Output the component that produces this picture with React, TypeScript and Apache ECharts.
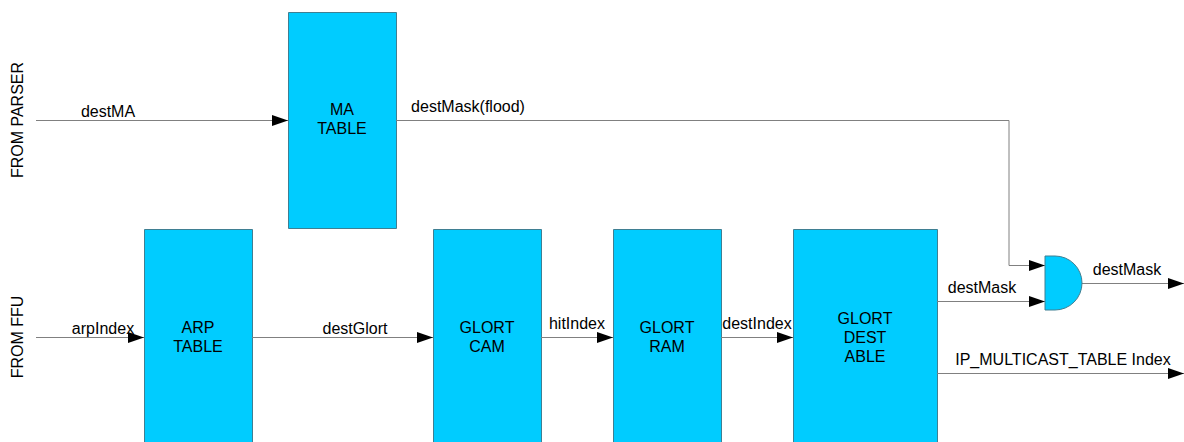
import React, { useEffect, useRef } from "react";
import * as echarts from "echarts";

// Diagram coordinate space matches the picture: x 0..1184, y 0..442 (downwards)
const blockNames = ["MA\nTABLE", "ARP\nTABLE", "GLORT\nCAM", "GLORT\nRAM", "GLORT\nDEST\nABLE"];
const blockLeft = [288, 144, 433, 613, 793];
const blockRight = [396, 252, 541, 721, 937];
const blockTop = [12, 229, 229, 229, 229];
const blockBottom = [228, 452, 452, 452, 452];
const blockTextY = [119, 337, 337, 337, 337];

const signalNames = [
  "destMA",
  "destMask(flood)",
  "arpIndex",
  "destGlort",
  "hitIndex",
  "destIndex",
  "destMask",
  "destMask",
  "IP_MULTICAST_TABLE Index",
];
const signalPaths: number[][][] = [
  [[36, 120], [288, 120]],
  [[396, 120], [1009, 120], [1009, 265], [1045, 265]],
  [[36, 337], [144, 337]],
  [[252, 337], [433, 337]],
  [[541, 337], [613, 337]],
  [[721, 337], [793, 337]],
  [[937, 301], [1045, 301]],
  [[1082, 283], [1184, 283]],
  [[937, 373], [1184, 373]],
];
const signalLabelX = [108, 468, 103, 355, 577, 757, 982, 1127, 1063];
const signalLabelY = [111, 106, 328, 328, 323, 323, 287, 269, 359];

const sourceNames = ["FROM PARSER", "FROM FFU"];
const sourceX = [17, 17];
const sourceY = [120, 337];

const gateLeft = 1045;
const gateTop = 256;
const gateBottom = 310;
const gateFlat = 1055;

const FONT = "16px 'Liberation Sans', Arial, sans-serif";

export default function App() {
  const ref = useRef<HTMLDivElement>(null);
  useEffect(() => {
    if (!ref.current) return;
    const chart = echarts.init(ref.current, undefined, { renderer: "svg" });
    const option: any = {
      animation: false,
      backgroundColor: "#ffffff",
      grid: { left: 0, right: 0, top: 0, bottom: 0 },
      xAxis: { type: "value", min: 0, max: 1184, show: false },
      yAxis: { type: "value", min: 0, max: 442, inverse: true, show: false },
      series: [
        {
          type: "custom",
          clip: false,
          data: blockNames.map((_, i) => [blockLeft[i], blockTop[i], blockRight[i], blockBottom[i]]),
          renderItem: (params: any, api: any) => {
            const i = params.dataIndex;
            const p0 = api.coord([api.value(0), api.value(1)]);
            const p1 = api.coord([api.value(2), api.value(3)]);
            const c = api.coord([(blockLeft[i] + blockRight[i]) / 2, blockTextY[i]]);
            return {
              type: "group",
              children: [
                {
                  type: "rect",
                  shape: { x: p0[0] + 0.5, y: p0[1] + 0.5, width: p1[0] - p0[0], height: p1[1] - p0[1] },
                  style: { fill: "#00CCFF", stroke: "#3f7f92", lineWidth: 1 },
                },
                {
                  type: "text",
                  style: {
                    text: blockNames[i],
                    x: c[0],
                    y: c[1],
                    align: "center",
                    verticalAlign: "middle",
                    font: FONT,
                    lineHeight: 19,
                    fill: "#000000",
                  },
                },
              ],
            };
          },
        },
        {
          type: "custom",
          clip: false,
          data: signalNames.map((_, i) => [i]),
          renderItem: (params: any, api: any) => {
            const i = params.dataIndex;
            const pts = signalPaths[i].map((p) => {
              const q = api.coord(p);
              return [Math.round(q[0]), Math.round(q[1]) + 0.5];
            });
            const end = pts[pts.length - 1];
            const prev = pts[pts.length - 2];
            const dir = end[0] >= prev[0] ? 1 : -1;
            const lab = api.coord([signalLabelX[i], signalLabelY[i]]);
            return {
              type: "group",
              children: [
                {
                  type: "polyline",
                  shape: { points: pts },
                  style: { stroke: "#808080", lineWidth: 1, fill: null },
                },
                {
                  type: "polygon",
                  shape: {
                    points: [
                      [end[0], end[1]],
                      [end[0] - dir * 16, end[1] - 5.5],
                      [end[0] - dir * 16, end[1] + 5.5],
                    ],
                  },
                  style: { fill: "#000000" },
                },
                {
                  type: "text",
                  style: {
                    text: signalNames[i],
                    x: lab[0],
                    y: lab[1],
                    align: "center",
                    verticalAlign: "middle",
                    font: FONT,
                    fill: "#000000",
                  },
                },
              ],
            };
          },
        },
        {
          type: "custom",
          clip: false,
          data: [[gateLeft, gateTop, gateBottom]],
          renderItem: (params: any, api: any) => {
            const a = api.coord([gateLeft, gateTop]);
            const b = api.coord([gateFlat, gateBottom]);
            const r = (b[1] - a[1]) / 2;
            const d = `M${a[0]} ${a[1]} L${b[0]} ${a[1]} A${r} ${r} 0 0 1 ${b[0]} ${b[1]} L${a[0]} ${b[1]} Z`;
            return {
              type: "path",
              shape: { pathData: d },
              style: { fill: "#00CCFF", stroke: "#3f7f92", lineWidth: 1 },
            };
          },
        },
        {
          type: "custom",
          clip: false,
          data: sourceNames.map((_, i) => [sourceX[i], sourceY[i]]),
          renderItem: (params: any, api: any) => {
            const i = params.dataIndex;
            const c = api.coord([api.value(0), api.value(1)]);
            return {
              type: "text",
              x: c[0],
              y: c[1],
              rotation: Math.PI / 2,
              style: {
                text: sourceNames[i],
                x: 0,
                y: 0,
                align: "center",
                verticalAlign: "middle",
                font: FONT,
                fill: "#000000",
              },
            };
          },
        },
      ],
    };
    chart.setOption(option);
    return () => chart.dispose();
  }, []);
  return (
    <div
      ref={ref}
      style={{ position: "fixed", left: 0, top: 0, width: 1184, height: 442, background: "#fff" }}
    />
  );
}
